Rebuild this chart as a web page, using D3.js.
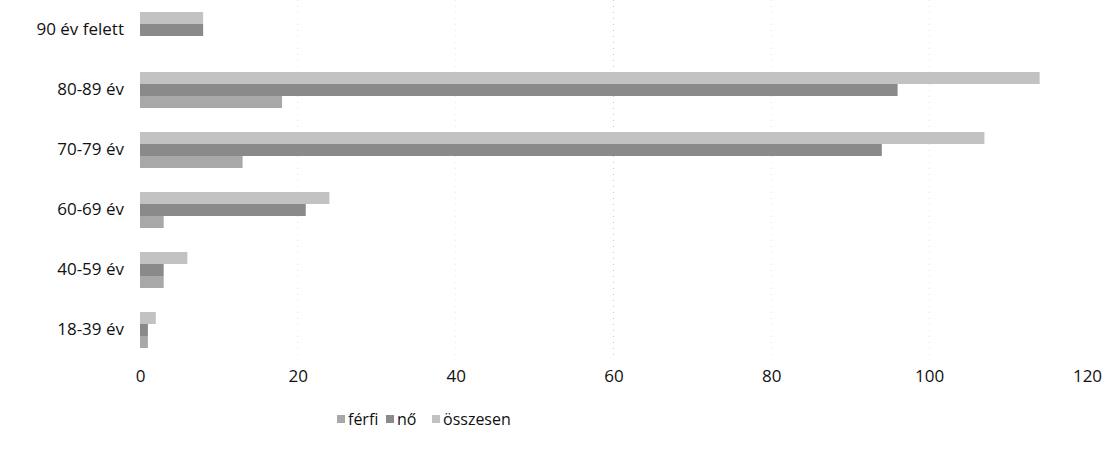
<!DOCTYPE html>
<html>
<head>
<meta charset="utf-8">
<script src="https://cdn.jsdelivr.net/npm/d3@7"></script>
<style>
  body { margin: 0; background: #fff; }
  svg { display: block; font-family: "Open Sans", "Noto Sans", sans-serif; }
</style>
</head>
<body>
<div id="chart"></div>
<script>
// categories, bottom to top as in the picture
const categories = ["18-39 év", "40-59 év", "60-69 év", "70-79 év", "80-89 év", "90 év felett"];
const series = ["férfi", "nő", "összesen"];
const ferfi = [1, 3, 3, 13, 18, 0];
const no = [1, 3, 21, 94, 96, 8];
const osszesen = [2, 6, 24, 107, 114, 8];
const xTicks = [0, 20, 40, 60, 80, 100, 120];

const colors = { "férfi": "#a8a8a8", "nő": "#8a8a8a", "összesen": "#c2c2c2" };

const width = 1108;
const height = 452;
const plot = { left: 140, right: 1087, top: 0, bottom: 360 };

const rows = categories.map((c, i) => ({
  category: c,
  values: [
    { key: "férfi", value: ferfi[i] },
    { key: "nő", value: no[i] },
    { key: "összesen", value: osszesen[i] },
  ],
}));

const svg = d3.select("#chart")
  .append("svg")
  .attr("width", width)
  .attr("height", height);

const x = d3.scaleLinear().domain([0, 120]).range([plot.left, plot.right]);

// top category first on screen
const y = d3.scaleBand()
  .domain([...categories].reverse())
  .range([plot.top, plot.bottom]);

// inside a band: összesen on top, férfi at the bottom
const ySub = d3.scaleBand()
  .domain([...series].reverse())
  .range([12, 48]);

// faint dotted gridlines (the scan kept little of them)
svg.append("g")
  .selectAll("line")
  .data(xTicks.filter(d => d > 0 && d < 120))
  .join("line")
  .attr("x1", d => x(d))
  .attr("x2", d => x(d))
  .attr("y1", plot.top)
  .attr("y2", plot.bottom)
  .attr("stroke", d => d === 60 ? "#c8c8c8" : "#e4e4e4")
  .attr("stroke-width", 1)
  .attr("stroke-dasharray", "1,5");

// bars
const groups = svg.append("g")
  .selectAll("g")
  .data(rows)
  .join("g")
  .attr("transform", d => `translate(0, ${y(d.category)})`);

groups.selectAll("rect")
  .data(d => d.values)
  .join("rect")
  .attr("x", x(0))
  .attr("y", d => ySub(d.key))
  .attr("height", ySub.bandwidth())
  .attr("width", d => x(d.value) - x(0))
  .attr("fill", d => colors[d.key]);

// category labels
const yAxis = d3.axisLeft(y).tickSize(0).tickPadding(16);
svg.append("g")
  .attr("transform", `translate(${plot.left}, 0)`)
  .call(yAxis)
  .call(g => g.select(".domain").remove())
  .selectAll("text")
  .attr("font-size", 17)
  .attr("fill", "#111")
  .attr("font-family", "Open Sans, Noto Sans, sans-serif");

// value axis labels
const xAxis = d3.axisBottom(x).tickValues(xTicks).tickSize(0).tickPadding(10);
svg.append("g")
  .attr("transform", `translate(0, ${plot.bottom})`)
  .call(xAxis)
  .call(g => g.select(".domain").remove())
  .selectAll("text")
  .attr("font-size", 17)
  .attr("fill", "#111")
  .attr("font-family", "Open Sans, Noto Sans, sans-serif");

// legend
const legendX = [337, 386, 432];
const legend = svg.append("g")
  .selectAll("g")
  .data(series)
  .join("g")
  .attr("transform", (d, i) => `translate(${legendX[i]}, 419)`);

legend.append("rect")
  .attr("x", 0)
  .attr("y", -4)
  .attr("width", 8)
  .attr("height", 8)
  .attr("fill", d => colors[d]);

legend.append("text")
  .attr("x", 11)
  .attr("dy", "0.35em")
  .attr("font-size", 16)
  .attr("fill", "#111")
  .text(d => d);
</script>
</body>
</html>
